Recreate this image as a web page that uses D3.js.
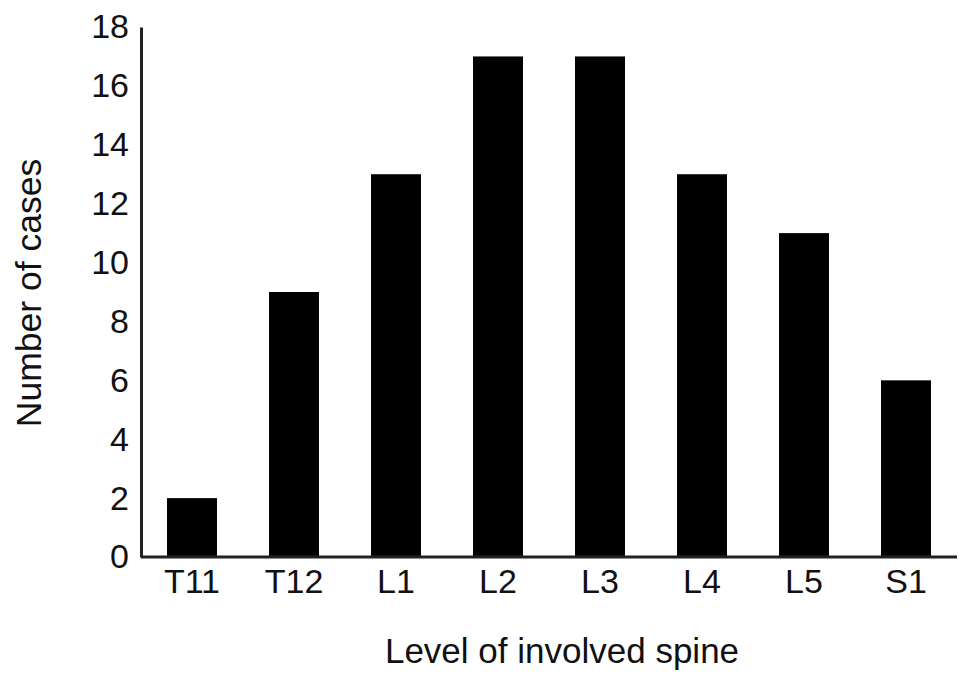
<!DOCTYPE html>
<html><head><meta charset="utf-8">
<script src="https://cdn.jsdelivr.net/npm/d3@7"></script>
<style>body{margin:0;background:#fff}svg{display:block}text{font-family:"Liberation Sans",Arial,sans-serif;fill:#111}</style>
</head><body><svg id="c" width="969" height="681"></svg>
<script>
const categories = ["T11","T12","L1","L2","L3","L4","L5","S1"];
const values = [2,9,13,17,17,13,11,6];
const yTicks = [0,2,4,6,8,10,12,14,16,18];

(function(){
const svg = d3.select("#c");
const mLeft = 141, mRight = 957, mTop = 27, mBottom = 557;
const fs = "34px";
const x = d3.scaleBand().domain(categories).range([mLeft,mRight]).paddingInner(0.51).paddingOuter(0.255);
const y = d3.scaleLinear().domain([0,18]).range([mBottom,mTop]);

svg.selectAll("rect.bar").data(values).join("rect").attr("class","bar")
  .attr("x",(d,i)=>x(categories[i])).attr("width",x.bandwidth())
  .attr("y",d=>y(d)).attr("height",d=>mBottom-y(d)).attr("fill","#000");

const ya = svg.append("g").attr("transform",`translate(${mLeft},0)`)
  .call(d3.axisLeft(y).tickValues(yTicks).tickSize(0).tickPadding(12));
ya.select(".domain").attr("stroke","#222").attr("stroke-width",3);
ya.selectAll("text").style("font-size",fs).attr("fill","#111");

const xa = svg.append("g").attr("transform",`translate(0,${mBottom})`)
  .call(d3.axisBottom(x).tickSize(0).tickPadding(12));
xa.select(".domain").attr("d",`M${mLeft},0H${mRight}`).attr("stroke","#222").attr("stroke-width",3);
xa.selectAll("text").style("font-size",fs).attr("fill","#111");

svg.append("text").attr("x",562).attr("y",663).attr("text-anchor","middle")
  .style("font-size","35px").text("Level of involved spine");
svg.append("text").attr("transform","translate(41,293) rotate(-90)").attr("text-anchor","middle")
  .style("font-size","35.5px").text("Number of cases");
})();
</script></body></html>
